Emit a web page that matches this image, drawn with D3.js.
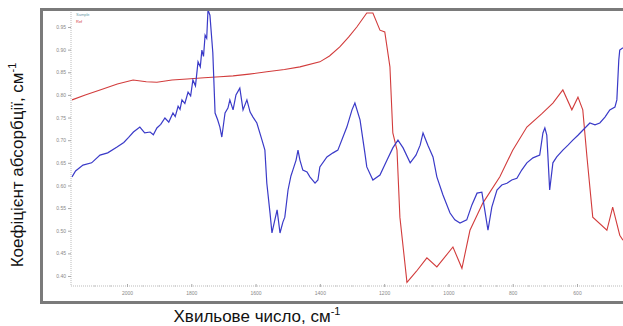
<!DOCTYPE html>
<html><head><meta charset="utf-8">
<script src="https://cdn.jsdelivr.net/npm/d3@7"></script>
<style>body{margin:0;background:#fff}svg{display:block}</style>
</head><body>
<script>
// Wavenumber (cm-1) and absorption coefficient values
const xTicks = [2000, 1800, 1600, 1400, 1200, 1000, 800, 600];
const yTicks = [0.95, 0.90, 0.85, 0.80, 0.75, 0.70, 0.65, 0.60, 0.55, 0.50, 0.45, 0.40];
const seriesNames = ["Sample", "Ref"];

const redWave = [2171,2130,2084,2030,1981,1940,1907,1860,1813,1760,1711,1670,1620,1565,1510,1462,1400,1370,1338,1310,1285,1254,1235,1213,1198,1182,1173,1160,1151,1129,1100,1067,1036,986,958,933,893,840,800,756,710,675,644,616,597,582,569,551,507,489,467,457];
const redVal  = [0.789,0.800,0.811,0.824,0.833,0.829,0.828,0.833,0.835,0.838,0.840,0.842,0.846,0.851,0.856,0.862,0.873,0.886,0.906,0.928,0.950,0.981,0.981,0.943,0.939,0.862,0.716,0.678,0.530,0.386,0.410,0.440,0.420,0.464,0.417,0.501,0.561,0.619,0.678,0.729,0.758,0.782,0.811,0.767,0.795,0.767,0.663,0.530,0.501,0.552,0.490,0.479];

const blueWave = [2171,2160,2137,2110,2084,2060,2031,2010,1995,1980,1960,1945,1928,1918,1907,1895,1882,1870,1857,1850,1841,1835,1829,1820,1810,1802,1795,1787,1779,1772,1767,1762,1757,1752,1748,1742,1733,1726,1718,1711,1705,1695,1686,1680,1670,1661,1649,1639,1627,1617,1608,1596,1580,1571,1565,1555,1549,1540,1533,1524,1515,1509,1499,1490,1484,1474,1468,1462,1453,1440,1431,1415,1406,1400,1378,1359,1344,1316,1300,1291,1275,1260,1254,1235,1213,1191,1173,1157,1141,1119,1101,1088,1079,1064,1048,1036,1017,995,980,964,943,927,911,896,887,877,865,849,834,818,803,787,772,756,737,716,706,700,694,691,685,675,663,644,628,613,597,582,560,544,529,513,498,482,476,470,467,457];
const blueVal  = [0.619,0.632,0.645,0.650,0.667,0.672,0.685,0.695,0.706,0.718,0.729,0.716,0.718,0.712,0.727,0.735,0.749,0.740,0.760,0.752,0.775,0.768,0.789,0.781,0.806,0.798,0.833,0.820,0.873,0.862,0.899,0.885,0.932,0.925,0.988,0.976,0.893,0.760,0.745,0.729,0.707,0.760,0.771,0.789,0.767,0.800,0.815,0.767,0.789,0.762,0.751,0.738,0.700,0.678,0.605,0.539,0.495,0.524,0.546,0.495,0.519,0.530,0.590,0.621,0.634,0.656,0.678,0.656,0.634,0.630,0.619,0.605,0.612,0.641,0.663,0.672,0.678,0.729,0.767,0.782,0.745,0.672,0.641,0.612,0.623,0.656,0.683,0.700,0.683,0.650,0.667,0.689,0.716,0.689,0.663,0.619,0.579,0.539,0.524,0.517,0.524,0.557,0.583,0.585,0.546,0.501,0.552,0.590,0.601,0.605,0.612,0.616,0.634,0.650,0.661,0.667,0.716,0.727,0.711,0.672,0.590,0.650,0.663,0.678,0.689,0.700,0.711,0.722,0.738,0.734,0.738,0.751,0.767,0.773,0.789,0.877,0.899,0.904];

const W = 623, H = 326;
const svg = d3.select("body").append("svg").attr("width", W).attr("height", H);

const x = d3.scaleLinear().domain([2000, 600]).range([127, 577]);
const y = d3.scaleLinear().domain([0.95, 0.40]).range([27, 276]);
const plotL = 71, plotR = 623, plotT = 10, plotB = 286;

// outer frame
svg.append("path")
  .attr("d", `M${W+2},9.5 H41.5 V302.5 H${W+2}`)
  .attr("fill", "none").attr("stroke", "#7a7a7a").attr("stroke-width", 3);

// axes lines (dotted)
svg.append("line").attr("x1", plotL).attr("x2", plotL).attr("y1", plotT+2).attr("y2", plotB)
  .attr("stroke", "#bbb").attr("stroke-dasharray", "1,1");
svg.append("line").attr("x1", plotL).attr("x2", plotR).attr("y1", plotB).attr("y2", plotB)
  .attr("stroke", "#bbb").attr("stroke-dasharray", "1,1");

// y axis
const yAxis = d3.axisLeft(y).tickValues(yTicks).tickSize(3).tickPadding(2).tickFormat(d3.format(".2f"));
const gy = svg.append("g").attr("transform", `translate(${plotL},0)`).call(yAxis);
gy.select(".domain").remove();
gy.selectAll("line").attr("stroke", "#aaa");
gy.selectAll("text").attr("fill", "#888").style("font", "5px 'Liberation Sans', Arial, sans-serif");

// x axis
const xAxis = d3.axisBottom(x).tickValues(xTicks).tickSize(3).tickPadding(4).tickFormat(d3.format("d"));
const gx = svg.append("g").attr("transform", `translate(0,${plotB-2})`).call(xAxis);
gx.select(".domain").remove();
gx.selectAll("line").attr("stroke", "#aaa");
gx.selectAll("text").attr("fill", "#888").style("font", "5px 'Liberation Sans', Arial, sans-serif");
// minor ticks
const minor = d3.range(2100, 450, -50).filter(v => !xTicks.includes(v));
svg.append("g").selectAll("line").data(minor).join("line")
  .attr("x1", d => x(d)).attr("x2", d => x(d)).attr("y1", plotB-1).attr("y2", plotB+1)
  .attr("stroke", "#ccc");

// clip
svg.append("clipPath").attr("id", "clip").append("rect")
  .attr("x", plotL).attr("y", plotT+1).attr("width", plotR-plotL).attr("height", plotB-plotT);

const line = d3.line().x(d => x(d[0])).y(d => y(d[1]));
const redData = redWave.map((w, i) => [w, redVal[i]]);
const blueData = blueWave.map((w, i) => [w, blueVal[i]]);

svg.append("path").datum(redData).attr("clip-path", "url(#clip)")
  .attr("d", line).attr("fill", "none").attr("stroke", "#d23c3c").attr("stroke-width", 1.1);
svg.append("path").datum(blueData).attr("clip-path", "url(#clip)")
  .attr("d", line).attr("fill", "none").attr("stroke", "#3a3ac8").attr("stroke-width", 1.2);

// tiny legend
const legColors = ["#6a9aa8", "#d23c3c"];
svg.append("g").selectAll("text").data(seriesNames).join("text")
  .attr("x", 76).attr("y", (d, i) => 16 + i * 7)
  .attr("fill", (d, i) => legColors[i])
  .style("font", "4px 'Liberation Sans', Arial, sans-serif")
  .text(d => d);

// axis titles
const yt = svg.append("text")
  .attr("transform", "translate(23,165) rotate(-90)")
  .attr("text-anchor", "middle")
  .style("font", "17px 'Liberation Sans', Arial, sans-serif").attr("fill", "#111");
yt.append("tspan").text("Коефіцієнт абсорбції, см");
yt.append("tspan").attr("dy", -7).style("font-size", "11px").text("-1");

const xt = svg.append("text")
  .attr("x", 257).attr("y", 322)
  .attr("text-anchor", "middle")
  .style("font", "17px 'Liberation Sans', Arial, sans-serif").attr("fill", "#111");
xt.append("tspan").text("Хвильове число, см");
xt.append("tspan").attr("dy", -7).style("font-size", "11px").text("-1");
</script>
</body></html>
